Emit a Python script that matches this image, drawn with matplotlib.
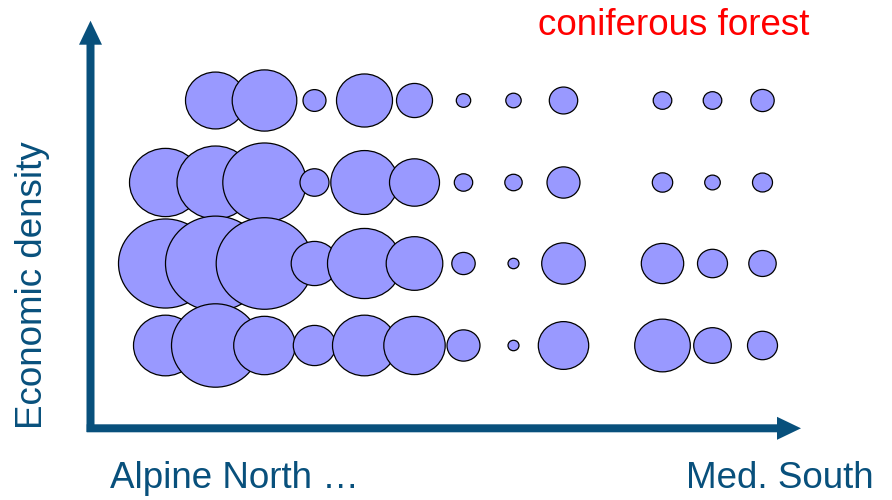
import numpy as np
import matplotlib.pyplot as plt
from matplotlib.path import Path
from matplotlib.markers import MarkerStyle
from matplotlib.transforms import Affine2D
from matplotlib.patches import FancyArrow

plt.rcParams['font.family'] = ['Liberation Sans', 'DejaVu Sans']

# bubble radii (px) per density level, columns go from Alpine North to Med. South
# column 9 is empty in the source
columns = np.arange(13)
levels = [1, 2, 3, 4]
radius = {
    4: [np.nan, 30.0, 32.3, 11.5, 28.0, 18.0, 7.2, 7.7, 14.2, np.nan, 9.3, 9.3, 11.7],
    3: [36.0, 38.5, 41.7, 14.5, 33.7, 25.0, 9.2, 8.7, 16.5, np.nan, 10.2, 7.8, 10.0],
    2: [47.0, 50.0, 48.3, 23.3, 37.0, 28.3, 11.7, 5.5, 21.8, np.nan, 21.2, 15.0, 13.7],
    1: [32.0, 44.0, 30.8, 21.2, 32.0, 30.7, 16.5, 5.5, 25.2, np.nan, 27.8, 18.8, 15.0],
}

title = 'coniferous forest'
ylabel = 'Economic density'
xlabel_left = 'Alpine North …'
xlabel_right = 'Med. South'

axis_col = '#08507C'
fill_col = '#9999FF'

W, H = 892, 500
fig = plt.figure(figsize=(W / 100, H / 100), dpi=100)

# overlay in pixel coordinates for the arrows
ov = fig.add_axes([0, 0, 1, 1])
ov.set_xlim(0, W)
ov.set_ylim(H, 0)
ov.axis('off')
ov.add_patch(FancyArrow(90.5, 432, 0, -411.3, width=8, head_width=23, head_length=24,
                        length_includes_head=True, color=axis_col, lw=0))
ov.add_patch(FancyArrow(86.7, 428.3, 714.3, 0, width=8, head_width=23, head_length=24,
                        length_includes_head=True, color=axis_col, lw=0))

# data axes: column index / density level
ax = fig.add_axes([0, 0, 1, 1])
dx, dy = 49.75, 81.67
x0, y0 = 165, 155
ax.set_xlim(-x0 / dx, (W - x0) / dx)
ax.set_ylim(1 - y0 / dy, 1 + (H - y0) / dy)
ax.axis('off')
ax.patch.set_alpha(0)

# slightly wide ellipse marker (source is stretched horizontally)
ell = Path.unit_circle().transformed(Affine2D().scale(1.055, 1.0))
marker = MarkerStyle(ell)

for lev in [4, 3, 2, 1]:
    r = np.array(radius[lev])
    for c, rr in zip(columns, r):
        if np.isnan(rr):
            continue
        ax.scatter([c], [lev], s=(2 * rr * 0.72) ** 2, marker=marker,
                   facecolor=fill_col, edgecolor='black', linewidths=0.9, zorder=3)

fig.text(538 / W, 1 - 35 / H, title, color='red', fontsize=26.5, ha='left', va='baseline')
fig.text(110 / W, 1 - 488 / H, xlabel_left, color=axis_col, fontsize=26.5, ha='left', va='baseline')
fig.text(874 / W, 1 - 488 / H, xlabel_right, color=axis_col, fontsize=26.5, ha='right', va='baseline')
fig.text(33 / W, 1 - 285 / H, ylabel, color=axis_col, fontsize=26.5, rotation=90,
         ha='center', va='center')

fig.savefig('out.png', dpi=100)
